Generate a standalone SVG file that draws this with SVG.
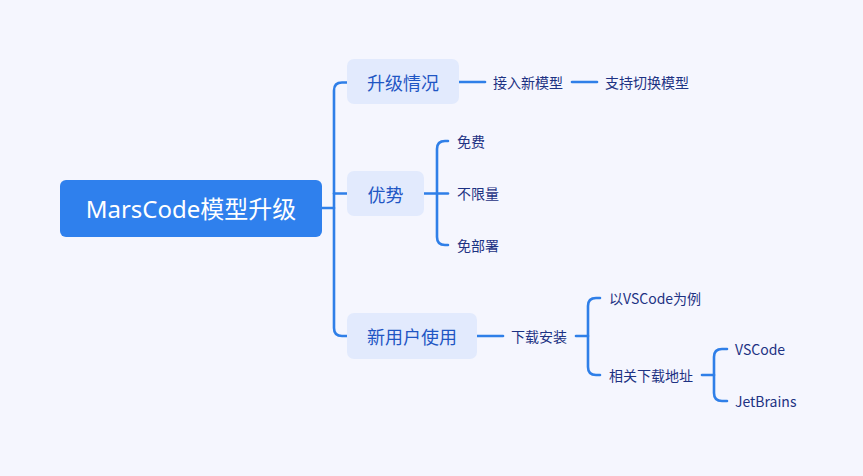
<svg xmlns="http://www.w3.org/2000/svg" width="863" height="476" viewBox="0 0 863 476">
<style>
.bg{fill:#f5f6fe}
.ln{fill:none;stroke:#2f7fe8;stroke-width:2.6;stroke-linecap:round}
.root{fill:#2f80ed}
.br{fill:#e2eafd}
.rt{font-family:"Noto Sans","Noto Sans CJK SC",sans-serif;font-size:24px;fill:#ffffff}
.bt{font-family:"Noto Sans CJK SC","Noto Sans",sans-serif;font-size:18px;fill:#1f56c4}
.lt{font-family:"Noto Sans CJK SC","Noto Sans",sans-serif;font-size:14px;fill:#1d3283}
</style>
<rect class="bg" x="0" y="0" width="863" height="476"/>
<g id="connectors">
<path class="ln" d="M322 208 H334"/>
<path class="ln" d="M347 82.5 H342 Q334 82.5 334 90.5 V328 Q334 336 342 336 H347"/>
<path class="ln" d="M334 193.5 H347"/>
<path class="ln" d="M459 82 H485"/>
<path class="ln" d="M572 82 H597"/>
<path class="ln" d="M424 193.5 H448"/>
<path class="ln" d="M448 141 H445 Q437 141 437 149 V237 Q437 245 445 245 H448"/>
<path class="ln" d="M477 336 H503"/>
<path class="ln" d="M576 336 H588"/>
<path class="ln" d="M600 298 H596 Q588 298 588 306 V367 Q588 375 596 375 H600"/>
<path class="ln" d="M702 375 H714"/>
<path class="ln" d="M727 349 H722 Q714 349 714 357 V393 Q714 401 722 401 H727"/>
</g>
<g id="root">
<rect class="root" x="60" y="180" width="262" height="57" rx="6"/>
<text class="rt" x="191" y="208.5" text-anchor="middle" dominant-baseline="central">MarsCode模型升级</text>
</g>
<g id="n-upgrade">
<rect class="br" x="347" y="59" width="112" height="45" rx="7"/>
<text class="bt" x="403" y="82" text-anchor="middle" dominant-baseline="central">升级情况</text>
</g>
<g id="n-access">
<text class="lt" x="493" y="82" dominant-baseline="central">接入新模型</text>
</g>
<g id="n-switch">
<text class="lt" x="605" y="82" dominant-baseline="central">支持切换模型</text>
</g>
<g id="n-adv">
<rect class="br" x="347" y="171" width="77" height="45" rx="7"/>
<text class="bt" x="385.5" y="193.5" text-anchor="middle" dominant-baseline="central">优势</text>
</g>
<g id="n-free">
<text class="lt" x="457" y="141" dominant-baseline="central">免费</text>
</g>
<g id="n-unlimited">
<text class="lt" x="457" y="193" dominant-baseline="central">不限量</text>
</g>
<g id="n-nodeploy">
<text class="lt" x="457" y="245" dominant-baseline="central">免部署</text>
</g>
<g id="n-newuser">
<rect class="br" x="347" y="313" width="130" height="46" rx="7"/>
<text class="bt" x="412" y="336" text-anchor="middle" dominant-baseline="central">新用户使用</text>
</g>
<g id="n-install">
<text class="lt" x="511" y="336" dominant-baseline="central">下载安装</text>
</g>
<g id="n-example">
<text class="lt" x="609" y="298" dominant-baseline="central">以VSCode为例</text>
</g>
<g id="n-links">
<text class="lt" x="609" y="375" dominant-baseline="central">相关下载地址</text>
</g>
<g id="n-vscode">
<text class="lt" x="735" y="349" dominant-baseline="central">VSCode</text>
</g>
<g id="n-jetbrains">
<text class="lt" x="735" y="401" dominant-baseline="central">JetBrains</text>
</g>
</svg>
